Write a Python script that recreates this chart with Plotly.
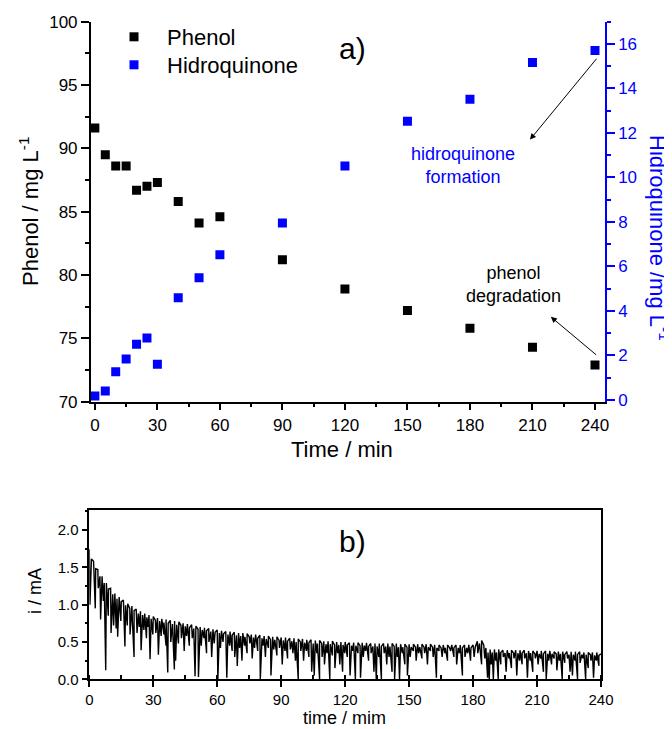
import plotly.graph_objects as go

# ---------------- data: panel a) ----------------
time_min = [0, 5, 10, 15, 20, 25, 30, 40, 50, 60, 90, 120, 150, 180, 210, 240]
phenol = [91.6, 89.5, 88.6, 88.6, 86.7, 87.0, 87.3, 85.8, 84.1, 84.6, 81.2, 78.9, 77.2, 75.8, 74.3, 72.9]
hydroquinone = [0.18, 0.40, 1.27, 1.84, 2.50, 2.78, 1.60, 4.59, 5.49, 6.53, 7.95, 10.51, 12.52, 13.51, 15.17, 15.70]

# ---------------- data: panel b) (current trace read at 1-min steps) ----------------
current_base = [
    1.74, 1.61, 1.58, 1.48, 1.47, 1.38, 1.38, 1.29, 1.29, 1.21,
    1.22, 1.14, 1.15, 1.08, 1.10, 1.04, 1.06, 0.99, 1.01, 0.95,
    0.98, 0.92, 0.94, 0.88, 0.91, 0.86, 0.88, 0.83, 0.86, 0.81,
    0.84, 0.79, 0.82, 0.78, 0.81, 0.76, 0.80, 0.75, 0.79, 0.74,
    0.78, 0.73, 0.77, 0.72, 0.75, 0.71, 0.74, 0.69, 0.73, 0.68,
    0.71, 0.67, 0.70, 0.66, 0.69, 0.65, 0.68, 0.64, 0.67, 0.63,
    0.66, 0.62, 0.65, 0.61, 0.64, 0.60, 0.64, 0.59, 0.63, 0.59,
    0.62, 0.58, 0.62, 0.57, 0.61, 0.57, 0.60, 0.56, 0.60, 0.55,
    0.59, 0.55, 0.58, 0.54, 0.58, 0.53, 0.57, 0.53, 0.57, 0.52,
    0.56, 0.52, 0.56, 0.51, 0.55, 0.51, 0.55, 0.50, 0.54, 0.50,
    0.54, 0.49, 0.53, 0.49, 0.53, 0.48, 0.52, 0.48, 0.52, 0.48,
    0.51, 0.47, 0.51, 0.47, 0.51, 0.46, 0.50, 0.46, 0.50, 0.46,
    0.50, 0.46, 0.49, 0.45, 0.49, 0.45, 0.49, 0.45, 0.49, 0.45,
    0.49, 0.44, 0.48, 0.44, 0.48, 0.44, 0.48, 0.44, 0.48, 0.44,
    0.48, 0.44, 0.48, 0.44, 0.48, 0.43, 0.47, 0.43, 0.47, 0.43,
    0.47, 0.43, 0.47, 0.43, 0.47, 0.43, 0.47, 0.43, 0.47, 0.43,
    0.47, 0.43, 0.46, 0.42, 0.46, 0.42, 0.46, 0.42, 0.46, 0.42,
    0.46, 0.42, 0.46, 0.42, 0.46, 0.42, 0.46, 0.42, 0.46, 0.42,
    0.46, 0.43, 0.51, 0.48, 0.52, 0.46, 0.42, 0.36, 0.40, 0.36,
    0.40, 0.36, 0.40, 0.36, 0.39, 0.35, 0.39, 0.35, 0.39, 0.35,
    0.39, 0.35, 0.39, 0.35, 0.39, 0.35, 0.38, 0.35, 0.38, 0.34,
    0.38, 0.34, 0.38, 0.34, 0.38, 0.34, 0.38, 0.34, 0.37, 0.34,
    0.37, 0.34, 0.37, 0.33, 0.37, 0.33, 0.37, 0.33, 0.37, 0.33,
    0.37, 0.33, 0.36, 0.33, 0.36, 0.33, 0.36, 0.32, 0.36, 0.32,
    0.34,
]
current_base_t = list(range(0, 241))

# downward spikes of the current trace (time in min, current in mA)
dip_t = [
    0.3, 2.8, 4.2, 5.3, 6.6, 7.7, 8.9, 10.2, 11.4, 12.6, 13.3, 14.8, 16.7, 17.8, 19.1, 20.2, 21.0,
    22.4, 23.5, 24.3, 25.6, 26.8, 27.6, 28.5, 29.8,
    31.2, 32.4, 33.7, 35.0, 36.0, 36.8, 38.2, 39.9, 40.5, 41.8, 43.2, 44.5, 45.6, 46.9, 48.3,
    49.6, 51.2, 52.5, 53.8, 55.0, 56.1, 57.4, 58.6, 60.3,
    61.5, 62.7, 64.5, 65.8, 67.0, 68.2, 69.4, 70.5, 71.6, 72.8, 74.0, 75.3, 76.4, 77.5, 79.0,
    80.2, 81.5, 82.6, 84.0, 85.2, 86.5, 88.0, 89.2,
    90.5, 91.8, 93.0, 94.3, 95.5, 96.7, 98.0, 99.2, 100.5, 101.8, 103.0, 104.3, 105.5, 106.7,
    108.0, 109.2, 110.3, 111.5, 112.8, 114.0, 115.2, 116.5, 117.5, 118.8, 119.8,
    121.0, 122.3, 123.5, 124.8, 126.0, 127.2, 128.5, 129.6, 131.0, 132.2, 133.5, 134.6, 135.8,
    137.0, 138.3, 139.5, 140.6, 142.0, 143.2, 144.5, 145.5, 146.8, 148.0, 149.2,
    150.5, 152.0, 153.3, 154.5, 156.0, 157.3, 158.6, 160.0, 161.3, 162.8, 164.0, 165.5, 166.8,
    168.0, 169.5, 171.0, 172.3, 173.6, 175.0, 176.2, 177.5, 178.8,
    180.5, 182.2, 184.0, 185.5, 186.8, 187.6, 188.5, 189.5, 190.6, 191.8, 193.0, 194.2, 195.5,
    196.8, 198.0, 199.2, 200.5, 201.8, 203.0, 204.2, 205.5, 206.8, 208.0, 209.2,
    210.5, 211.8, 213.0, 214.3, 215.5, 216.8, 218.0, 219.3, 220.5, 221.8, 223.0, 224.3, 225.5,
    226.6, 227.8, 229.0, 230.2, 231.5, 232.8, 234.0, 235.3, 236.5, 237.8, 239.0,
]
dip_i = [
    1.00, 0.95, 1.22, 0.80, 1.05, 0.12, 0.85, 0.62, 0.72, 0.68, 0.57, 0.78, 0.44, 0.72, 0.60, 0.78, 0.30,
    0.62, 0.70, 0.39, 0.66, 0.55, 0.70, 0.27, 0.60,
    0.62, 0.33, 0.58, 0.60, 0.45, 0.09, 0.50, 0.13, 0.25, 0.48, 0.55, 0.38, 0.58, 0.45, 0.55,
    0.04, 0.03, 0.45, 0.55, 0.35, 0.50, 0.30, 0.48, 0.00,
    0.42, 0.50, 0.02, 0.45, 0.38, 0.30, 0.18, 0.42, 0.25, 0.45, 0.35, 0.48, 0.28, 0.42, 0.38,
    0.00, 0.45, 0.30, 0.42, 0.05, 0.40, 0.32, 0.42,
    0.20, 0.38, 0.28, 0.40, 0.35, 0.25, 0.00, 0.38, 0.25, 0.38, 0.30, 0.10, 0.05, 0.35,
    0.00, 0.30, 0.20, 0.35, 0.00, 0.32, 0.15, 0.35, 0.20, 0.10, 0.35,
    0.30, 0.05, 0.38, 0.00, 0.35, 0.02, 0.30, 0.38, 0.25, 0.35, 0.10, 0.00, 0.30,
    0.00, 0.35, 0.20, 0.30, 0.10, 0.00, 0.30, 0.00, 0.35, 0.20, 0.05,
    0.30, 0.38, 0.25, 0.35, 0.28, 0.35, 0.20, 0.38, 0.30, 0.02, 0.38, 0.30, 0.35,
    0.25, 0.38, 0.30, 0.20, 0.35, 0.05, 0.30, 0.35, 0.25,
    0.30, 0.35, 0.20, 0.28, 0.02, 0.00, 0.20, 0.00, 0.25, 0.00, 0.20, 0.30, 0.10,
    0.28, 0.15, 0.28, 0.05, 0.25, 0.20, 0.28, 0.02, 0.25, 0.10, 0.28,
    0.20, 0.28, 0.10, 0.00, 0.25, 0.20, 0.28, 0.12, 0.25, 0.00, 0.22, 0.28, 0.10,
    0.05, 0.25, 0.00, 0.22, 0.28, 0.00, 0.15, 0.25, 0.02, 0.25, 0.18,
]

# merge base samples and spikes in time order
pairs = sorted(list(zip(current_base_t, current_base)) + list(zip(dip_t, dip_i)))
trace_t = [p[0] for p in pairs]
trace_i = [p[1] for p in pairs]

FONT = "Liberation Sans, Arial, Helvetica, sans-serif"
BLUE = "#0000ff"

# the page body adds an 8 px margin, so the figure is 8 px smaller than the window
W, H = 664, 721
OFF = 8


def P(x, y):
    """window pixel -> paper coordinates"""
    return (x - OFF) / W, 1 - (y - OFF) / H


def dom_x(a, b):
    return [(a - OFF) / W, (b - OFF) / W]


def dom_y(top, bottom):
    return [1 - (bottom - OFF) / H, 1 - (top - OFF) / H]


fig = go.Figure()
fig.add_trace(go.Scatter(x=time_min, y=phenol, mode="markers", name="Phenol",
                         marker=dict(symbol="square", size=9, color="black"),
                         xaxis="x", yaxis="y", legend="legend"))
fig.add_trace(go.Scatter(x=time_min, y=hydroquinone, mode="markers", name="Hidroquinone",
                         marker=dict(symbol="square", size=9, color=BLUE),
                         xaxis="x", yaxis="y2", legend="legend2"))
fig.add_trace(go.Scatter(x=trace_t, y=trace_i, mode="lines", showlegend=False,
                         line=dict(color="black", width=1.4),
                         xaxis="x2", yaxis="y3"))

ax_common = dict(showgrid=False, zeroline=False, showline=True, linecolor="black",
                 linewidth=1.5, tickcolor="black", tickwidth=1.5)

lx = 93 / W
ly1 = 1 - 8 / H
ly2 = 1 - 36 / H

fig.update_layout(
    template="none",
    width=W, height=H,
    margin=dict(l=0, r=0, t=0, b=0),
    paper_bgcolor="white", plot_bgcolor="white",
    font=dict(family=FONT, color="black"),
    showlegend=True,
    legend=dict(x=lx, y=ly1, xanchor="left", yanchor="top",
                font=dict(size=22, color="black"), bgcolor="rgba(0,0,0,0)",
                itemwidth=56),
    legend2=dict(x=lx, y=ly2, xanchor="left", yanchor="top",
                 font=dict(size=22, color="black"), bgcolor="rgba(0,0,0,0)",
                 itemwidth=56),
    xaxis=dict(**ax_common, domain=dom_x(90.7, 605), anchor="y", range=[-2, 244.8],
               tick0=0, dtick=30, ticks="outside", ticklen=7,
               tickfont=dict(size=17),
               minor=dict(dtick=15, ticks="outside", ticklen=4, tickcolor="black", tickwidth=1.5)),
    xaxis3=dict(showgrid=False, zeroline=False, showline=True, linecolor="black", linewidth=1.5,
                overlaying="x", matches="x", side="top", anchor="y", range=[-2, 244.8],
                tick0=0, dtick=30, ticks="inside", ticklen=5, tickcolor="black", tickwidth=1,
                showticklabels=False,
                minor=dict(dtick=15, ticks="inside", ticklen=3, tickcolor="black", tickwidth=1)),
    yaxis=dict(**ax_common, domain=dom_y(21.7, 401.7), anchor="x", range=[70, 100],
               tick0=70, dtick=5, ticks="outside", ticklen=8,
               tickfont=dict(size=17),
               minor=dict(dtick=2.5, ticks="outside", ticklen=4, tickcolor="black", tickwidth=1.5)),
    yaxis2=dict(showgrid=False, zeroline=False, showline=True, linecolor=BLUE, linewidth=1.5,
                overlaying="y", side="right", anchor="x", range=[-0.08, 17],
                tick0=0, dtick=2, ticks="outside", ticklen=8, tickcolor=BLUE, tickwidth=1.5,
                tickfont=dict(size=17, color=BLUE),
                minor=dict(dtick=1, ticks="outside", ticklen=4, tickcolor=BLUE, tickwidth=1.5)),
    xaxis2=dict(**ax_common, domain=dom_x(89.3, 601), anchor="y3", range=[0, 240],
                tick0=0, dtick=30, ticks="outside", ticklen=6, mirror=True,
                tickfont=dict(size=15),
                minor=dict(dtick=15, ticks="inside", ticklen=5, tickcolor="black", tickwidth=1.5)),
    yaxis3=dict(**ax_common, domain=dom_y(510.3, 679.3), anchor="x2", range=[0, 2.263],
                tick0=0, dtick=0.5, tickformat=".1f", ticks="outside", ticklen=6, mirror=True,
                tickfont=dict(size=15),
                minor=dict(dtick=0.25, ticks="outside", ticklen=3, tickcolor="black", tickwidth=1.5)),
)

annots = []
for (txt, px, py, size, ang, col) in [
    ("Time / min", 342, 450, 22, 0, "black"),
    ("Phenol / mg L<sup>-1</sup>", 29, 212, 22, -90, "black"),
    ("Hidroquinone /mg L<sup>-1</sup>", 659, 238, 22, 90, BLUE),
    ("time / mim", 344, 718, 18, 0, "black"),
    ("i / mA", 35, 591, 18, -90, "black"),
    ("a)", 352, 49, 30, 0, "black"),
    ("b)", 352, 541, 30, 0, "black"),
    ("hidroquinone<br>formation", 463, 165, 18, 0, BLUE),
    ("phenol<br>degradation", 513, 284, 18, 0, "black"),
]:
    x, y = P(px, py)
    annots.append(dict(text=txt, x=x, y=y, xref="paper", yref="paper", showarrow=False,
                       xanchor="center", yanchor="middle", textangle=ang,
                       font=dict(size=size, color=col, family=FONT)))

# arrows (data coordinates)
annots.append(dict(text="", x=208.8, y=11.7, xref="x", yref="y2",
                   ax=241.3, ay=15.4, axref="x", ayref="y2",
                   showarrow=True, arrowhead=2, arrowsize=1.2, arrowwidth=1, arrowcolor="black"))
annots.append(dict(text="", x=218.8, y=76.7, xref="x", yref="y",
                   ax=241.3, ay=73.6, axref="x", ayref="y",
                   showarrow=True, arrowhead=2, arrowsize=1.2, arrowwidth=1, arrowcolor="black"))

fig.update_layout(annotations=annots)

fig.write_html("out.html")
